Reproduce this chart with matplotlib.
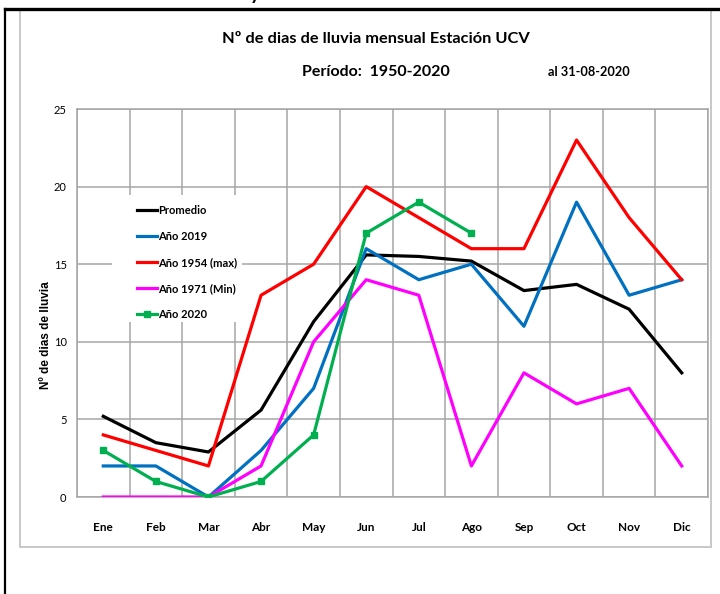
import matplotlib
matplotlib.use('Agg')
import numpy as np
import matplotlib.pyplot as plt
from matplotlib.patches import Rectangle
from matplotlib.lines import Line2D

meses = ['Ene', 'Feb', 'Mar', 'Abr', 'May', 'Jun', 'Jul', 'Ago', 'Sep', 'Oct', 'Nov', 'Dic']
promedio = [5.2, 3.5, 2.9, 5.6, 11.3, 15.6, 15.5, 15.2, 13.3, 13.7, 12.1, 8.0]
a2019 = [2, 2, 0, 3, 7, 16, 14, 15, 11, 19, 13, 14]
a1954 = [4, 3, 2, 13, 15, 20, 18, 16, 16, 23, 18, 14]
a1971 = [0, 0, 0, 2, 10, 14, 13, 2, 8, 6, 7, 2]
a2020 = [3, 1, 0, 1, 4, 17, 19, 17]
yticks = [0, 5, 10, 15, 20, 25]

NARROW = ['Lato', 'DejaVu Sans']
ARIAL = ['Liberation Sans', 'DejaVu Sans']

W, H = 720, 594
fig = plt.figure(figsize=(W / 100, H / 100), dpi=100)

# outer frames
fig.add_artist(Rectangle((20 / W, 1 - 547 / H), (711 - 20) / W, (547 - 10) / H,
                         transform=fig.transFigure, fill=False,
                         edgecolor='#C8C8C8', lw=1.4))
fig.add_artist(Line2D([5 / W, 1], [1 - 9 / H] * 2, color='black', lw=2.4))
fig.add_artist(Line2D([5 / W] * 2, [0, 1 - 9 / H], color='black', lw=1.6))

ax = fig.add_axes([77 / W, 1 - 497 / H, 631 / W, 388 / H])
x = np.arange(len(meses))

ax.plot(x, promedio, color='black', lw=2.3, label='Promedio', zorder=3)
ax.plot(x, a2019, color='#0070C0', lw=2.3, label='Año 2019', zorder=3)
ax.plot(x, a1954, color='#FF0000', lw=2.3, label='Año 1954 (max)', zorder=3)
ax.plot(x, a1971, color='#FF00FF', lw=2.3, label='Año 1971 (Min)', zorder=3)
ax.plot(x[:len(a2020)], a2020, color='#00B050', lw=2.3, marker='s',
        markersize=5, label='Año 2020', zorder=3)

ax.set_xlim(-0.5, len(meses) - 0.5)
ax.set_ylim(0, 25)
ax.set_yticks(yticks)
ax.set_yticklabels([str(v) for v in yticks], fontfamily=NARROW, fontsize=8)
ax.set_xticks(x)
ax.set_xticklabels(meses, fontfamily=NARROW, fontsize=8.5, fontweight='bold')
ax.set_xticks(np.arange(-0.5, len(meses), 1), minor=True)
ax.tick_params(axis='both', which='both', length=0)
ax.tick_params(axis='x', pad=18)
ax.tick_params(axis='y', pad=7.5)
ax.set_axisbelow(True)
ax.grid(True, axis='y', which='major', color='#A6A6A6', lw=1.1)
ax.grid(True, axis='x', which='minor', color='#A6A6A6', lw=1.1)
for s in ax.spines.values():
    s.set_color('#A6A6A6')
    s.set_linewidth(1.1)

# legend background
ax.add_patch(Rectangle((0.0555, 0.451), 0.206, 0.327, transform=ax.transAxes,
                       facecolor='white', edgecolor='none', zorder=1))
leg = ax.legend(loc='upper left', bbox_to_anchor=(0.095, 0.752), frameon=False,
                borderaxespad=0, borderpad=0, handlelength=1.8,
                handletextpad=0.1, labelspacing=1.35,
                prop={'family': NARROW, 'size': 8, 'weight': 'bold'})

# texts
fig.text(376 / W, 1 - 39 / H, 'Nº de dias de lluvia mensual Estación UCV',
         ha='center', va='center', fontfamily=NARROW, fontsize=11.8, fontweight='bold')
fig.text(376 / W, 1 - 72 / H, 'Período:  1950-2020',
         ha='center', va='center', fontfamily=NARROW, fontsize=11.5, fontweight='bold')
fig.text(589 / W, 1 - 72 / H, 'al 31-08-2020',
         ha='center', va='center', fontfamily=NARROW, fontsize=9.2, fontweight='bold')
fig.text(46 / W, 1 - 335 / H, 'Nº de dias de lluvia', rotation=90,
         ha='center', va='center', fontfamily=ARIAL, fontsize=8.5, fontweight='bold')
fig.text(255 / W, 1.0, 'y', ha='center', va='baseline', fontfamily=NARROW,
         fontsize=14, fontweight='bold')

fig.savefig('out.png', dpi=100)
